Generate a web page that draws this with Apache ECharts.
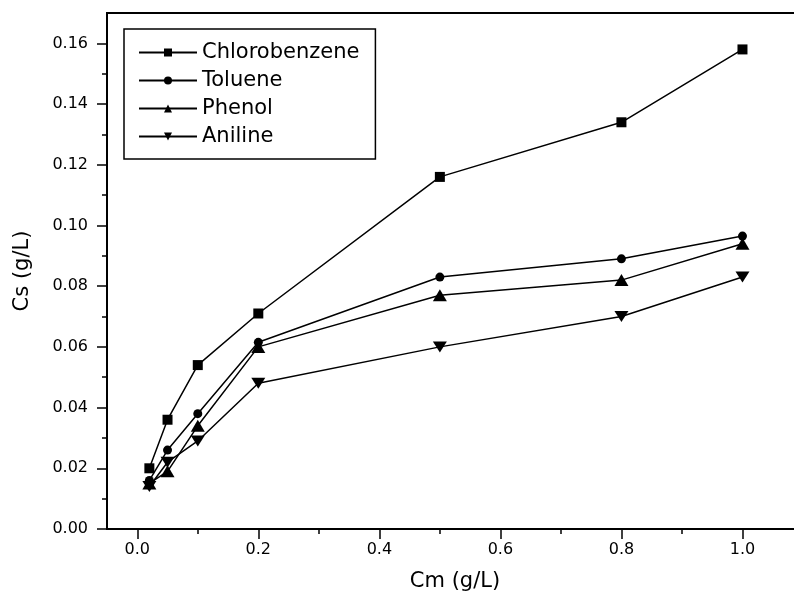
<!DOCTYPE html>
<html>
<head>
<meta charset="utf-8">
<script src="https://cdn.jsdelivr.net/npm/echarts@6/dist/echarts.min.js"></script>
<style>
  html, body { margin: 0; padding: 0; background: #fff; }
  #chart { width: 794px; height: 606px; }
</style>
</head>
<body>
<div id="chart"></div>
<script>
// data
var cmValues = [0.02, 0.05, 0.1, 0.2, 0.5, 0.8, 1.0];
var chlorobenzene = [0.020, 0.036, 0.054, 0.071, 0.116, 0.134, 0.158];
var toluene = [0.016, 0.026, 0.038, 0.0615, 0.083, 0.089, 0.0965];
var phenol = [0.015, 0.019, 0.034, 0.060, 0.077, 0.082, 0.094];
var aniline = [0.014, 0.022, 0.029, 0.048, 0.060, 0.070, 0.083];

var xMajor = [0, 0.2, 0.4, 0.6, 0.8, 1.0];
var xMinor = [0.1, 0.3, 0.5, 0.7, 0.9];
var yMajor = [0, 0.02, 0.04, 0.06, 0.08, 0.10, 0.12, 0.14, 0.16];
var yMinor = [0.01, 0.03, 0.05, 0.07, 0.09, 0.11, 0.13, 0.15];

var font = 'DejaVu Sans';
var myChart = echarts.init(document.getElementById('chart'), null, { renderer: 'canvas' });

function pairs(ys) {
  var out = [];
  for (var i = 0; i < cmValues.length; i++) {
    out.push([cmValues[i], ys[i]]);
  }
  return out;
}

function makeSeries(name, ys, symbol, size, rotate) {
  return {
    name: name,
    type: 'line',
    xAxisIndex: 0,
    yAxisIndex: 0,
    data: pairs(ys),
    symbol: symbol,
    symbolSize: size,
    symbolRotate: rotate || 0,
    showAllSymbol: true,
    lineStyle: { color: '#000', width: 1.5 },
    itemStyle: { color: '#000' },
    emphasis: { disabled: true },
    animation: false
  };
}

var option = {
  backgroundColor: '#fff',
  animation: false,
  // plot box runs past the right edge of the picture, like the cropped original
  grid: {
    left: 107, top: 13, width: 696, height: 516,
    outerBoundsMode: 'none', containLabel: false,
    show: true, borderColor: '#000', borderWidth: 2, backgroundColor: 'transparent'
  },
  legend: {
    orient: 'vertical',
    left: 124, top: 29,
    borderColor: '#000', borderWidth: 1.5,
    padding: [13, 16, 12, 14],
    itemWidth: 58, itemHeight: 10, itemGap: 7,
    textStyle: { fontFamily: font, fontSize: 21, color: '#000' },
    data: ['Chlorobenzene', 'Toluene', 'Phenol', 'Aniline']
  },
  xAxis: [{
    type: 'value',
    min: -0.05, max: 1.1,
    name: 'Cm (g/L)',
    nameLocation: 'middle',
    nameGap: 42,
    nameTextStyle: { fontFamily: font, fontSize: 21, color: '#000' },
    splitLine: { show: false },
    axisLine: { show: true, onZero: false, lineStyle: { color: '#000', width: 2 } },
    axisTick: { show: true, inside: false, length: 10, customValues: xMajor, lineStyle: { color: '#000', width: 1.5 } },
    axisLabel: {
      customValues: xMajor, margin: 13,
      fontFamily: font, fontSize: 16, color: '#000',
      formatter: function (v) { return v.toFixed(1); }
    }
  }, {
    type: 'value',
    min: -0.05, max: 1.1,
    position: 'bottom',
    splitLine: { show: false },
    axisLine: { show: false, onZero: false },
    axisTick: { show: true, inside: false, length: 5, customValues: xMinor, lineStyle: { color: '#000', width: 1.5 } },
    axisLabel: { show: false }
  }],
  yAxis: [{
    type: 'value',
    min: 0, max: 0.17,
    name: 'Cs (g/L)',
    nameLocation: 'middle',
    nameGap: 74,
    nameTextStyle: { fontFamily: font, fontSize: 21, color: '#000' },
    splitLine: { show: false },
    axisLine: { show: true, onZero: false, lineStyle: { color: '#000', width: 2 } },
    axisTick: { show: true, inside: false, length: 10, customValues: yMajor, lineStyle: { color: '#000', width: 1.5 } },
    axisLabel: {
      customValues: yMajor, margin: 19,
      fontFamily: font, fontSize: 16, color: '#000',
      formatter: function (v) { return v.toFixed(2); }
    }
  }, {
    type: 'value',
    min: 0, max: 0.17,
    position: 'left',
    splitLine: { show: false },
    axisLine: { show: false, onZero: false },
    axisTick: { show: true, inside: false, length: 5, customValues: yMinor, lineStyle: { color: '#000', width: 1.5 } },
    axisLabel: { show: false }
  }],
  series: [
    makeSeries('Chlorobenzene', chlorobenzene, 'rect', 10),
    makeSeries('Toluene', toluene, 'circle', 9),
    makeSeries('Phenol', phenol, 'triangle', [14, 12]),
    makeSeries('Aniline', aniline, 'triangle', [14, 11], 180)
  ]
};

myChart.setOption(option);
</script>
</body>
</html>
